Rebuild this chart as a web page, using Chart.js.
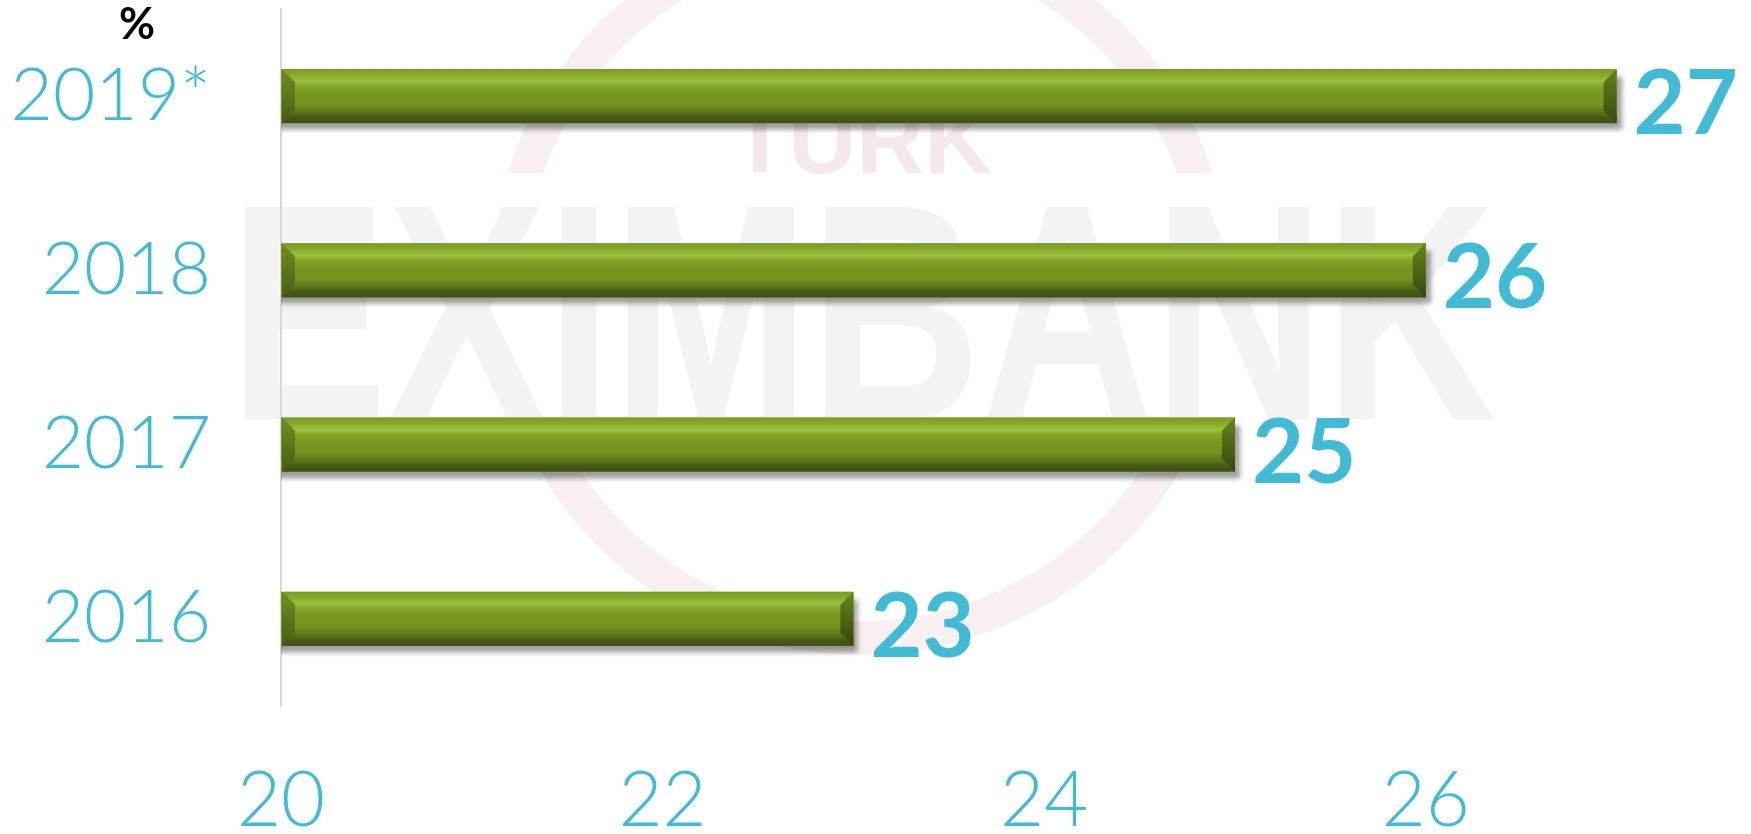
<!DOCTYPE html>
<html>
<head>
<meta charset="utf-8">
<script src="https://cdn.jsdelivr.net/npm/chart.js@4/dist/chart.umd.min.js"></script>
<style>
  html, body { margin: 0; padding: 0; background: #ffffff; }
  #wrap { width: 1751px; height: 834px; position: relative; }
</style>
</head>
<body>
<div id="wrap"><canvas id="c" width="1751" height="834"></canvas></div>
<script>
const categories = ['2019*', '2018', '2017', '2016'];
const values = [27, 26, 25, 23];
const xTickValues = [20, 22, 24, 26];
const unitLabel = '%';

const BLUE = '#41bad6';

const watermark = {
  id: 'watermark',
  beforeDraw(chart) {
    const ctx = chart.ctx;
    ctx.save();
    ctx.fillStyle = '#ffffff';
    ctx.fillRect(0, 0, chart.width, chart.height);
    // ring
    ctx.strokeStyle = '#f8f0f0';
    ctx.lineWidth = 34;
    ctx.beginPath();
    ctx.arc(860, 285, 353, 0, Math.PI * 2);
    ctx.stroke();
    // band behind text
    ctx.fillStyle = '#ffffff';
    ctx.fillRect(0, 173, chart.width, 249);
    // TÜRK
    ctx.fillStyle = '#f5e8e8';
    ctx.font = 'bold 94px "Liberation Sans", Arial, sans-serif';
    ctx.textAlign = 'left';
    ctx.textBaseline = 'alphabetic';
    ctx.fillText('TÜRK', 731, 173, 280);
    // EXIMBANK
    ctx.fillStyle = '#f3f3f3';
    ctx.font = 'bold 308px "Liberation Sans", Arial, sans-serif';
    ctx.fillText('EXIMBANK', 229, 419, 1267);
    ctx.restore();
  }
};

const barStyle = {
  id: 'barStyle',
  beforeDatasetsDraw(chart) {
    const ctx = chart.ctx;
    ctx.save();
    ctx.shadowColor = 'rgba(0,0,0,0.38)';
    ctx.shadowBlur = 5;
    ctx.shadowOffsetX = 5;
    ctx.shadowOffsetY = 7;
  },
  afterDatasetsDraw(chart) {
    const ctx = chart.ctx;
    ctx.restore();
    const area = chart.chartArea;
    const meta = chart.getDatasetMeta(0);
    meta.data.forEach((bar, i) => {
      const x0 = Math.max(bar.base, area.left + 1), x1 = bar.x;
      const y0 = bar.y - bar.height / 2, y1 = bar.y + bar.height / 2;
      const h = y1 - y0;
      ctx.save();
      const g = ctx.createLinearGradient(0, y0, 0, y1);
      g.addColorStop(0, '#7c9c22');
      g.addColorStop(0.10, '#86a82a');
      g.addColorStop(0.22, '#9cc040');
      g.addColorStop(0.32, '#84a526');
      g.addColorStop(0.45, '#77971f');
      g.addColorStop(0.66, '#74931e');
      g.addColorStop(0.80, '#5a7419');
      g.addColorStop(0.90, '#445a15');
      g.addColorStop(1, '#3d5013');
      ctx.fillStyle = g;
      ctx.fillRect(x0, y0, x1 - x0, h);
      const b = 13;
      // left bevel
      const gl = ctx.createLinearGradient(0, y0, 0, y1);
      gl.addColorStop(0, 'rgba(110,140,32,0.95)');
      gl.addColorStop(1, 'rgba(70,92,20,0.95)');
      ctx.fillStyle = gl;
      ctx.beginPath();
      ctx.moveTo(x0, y0); ctx.lineTo(x0 + b, y0 + b); ctx.lineTo(x0 + b, y1 - b); ctx.lineTo(x0, y1); ctx.closePath();
      ctx.fill();
      // right bevel
      const gr = ctx.createLinearGradient(0, y0, 0, y1);
      gr.addColorStop(0, 'rgba(100,128,28,0.95)');
      gr.addColorStop(1, 'rgba(52,70,15,0.95)');
      ctx.fillStyle = gr;
      ctx.beginPath();
      ctx.moveTo(x1, y0); ctx.lineTo(x1 - b, y0 + b); ctx.lineTo(x1 - b, y1 - b); ctx.lineTo(x1, y1); ctx.closePath();
      ctx.fill();
      // value label
      ctx.fillStyle = BLUE;
      ctx.font = 'bold 90px Lato, "DejaVu Sans", sans-serif';
      ctx.textAlign = 'left';
      ctx.textBaseline = 'middle';
      ctx.fillText(String(values[i]), x1 + 17, bar.y + 9);
      ctx.restore();
    });
    // unit label
    ctx.save();
    ctx.fillStyle = '#000000';
    ctx.font = 'bold 44px Lato, "DejaVu Sans", sans-serif';
    ctx.textAlign = 'center';
    ctx.textBaseline = 'middle';
    ctx.fillText(unitLabel, 137, 25);
    ctx.restore();
  }
};

new Chart(document.getElementById('c'), {
  type: 'bar',
  data: {
    labels: categories,
    datasets: [{
      data: values,
      backgroundColor: '#76961f',
      borderWidth: 0,
      categoryPercentage: 1,
      barPercentage: 0.31
    }]
  },
  options: {
    indexAxis: 'y',
    responsive: false,
    animation: false,
    layout: { padding: { top: 9, right: 39, left: 0, bottom: 0 } },
    plugins: { legend: { display: false }, tooltip: { enabled: false } },
    scales: {
      x: {
        min: 20, max: 27.5,
        afterBuildTicks(scale) { scale.ticks = xTickValues.map(v => ({ value: v })); },
        afterFit(scale) { scale.height = 128; scale.paddingLeft = 0; scale.paddingRight = 0; },
        grid: { display: false, drawTicks: false },
        border: { display: false },
        ticks: {
          color: BLUE,
          font: { family: 'Lato, "DejaVu Sans", sans-serif', size: 76, weight: '300' },
          padding: 50,
          maxRotation: 0
        }
      },
      y: {
        afterFit(scale) { scale.width = 281; scale.paddingTop = 0; scale.paddingBottom = 0; },
        grid: { display: false, drawTicks: false },
        border: { display: true, color: '#d9d9d9', width: 2 },
        ticks: {
          color: BLUE,
          font: { family: 'Lato, "DejaVu Sans", sans-serif', size: 73, weight: '300' },
          padding: 70
        }
      }
    }
  },
  plugins: [watermark, barStyle]
});
</script>
</body>
</html>
